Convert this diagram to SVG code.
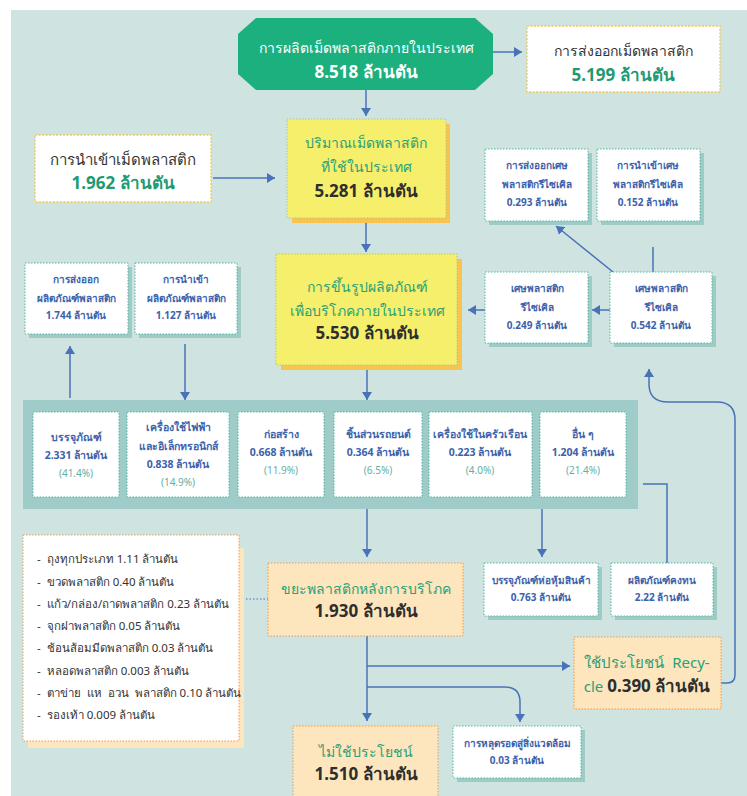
<svg xmlns="http://www.w3.org/2000/svg" width="747" height="796" viewBox="0 0 747 796">
<style>
text{font-family:"Noto Sans","DejaVu Sans",sans-serif;text-anchor:middle}
.w1{fill:#fff;font-size:14px}
.w2{fill:#fff;font-size:17px;font-weight:bold}
.dk{fill:#333;font-size:14px}
.dkb{fill:#2e2e2e;font-size:17px;font-weight:bold}
.gr{fill:#2a9f78;font-size:14px}
.grb{fill:#1f9a72;font-size:17px;font-weight:bold}
.bl{fill:#3c62ab;font-size:10px;font-weight:bold}
.cat{fill:#3c62ab;font-size:10.5px;font-weight:bold}
.pct{fill:#5fb0a6;font-size:10px}
.lst{fill:#333;font-size:11.5px;text-anchor:start}
.wb{fill:#fff;stroke:#4fb99e;stroke-width:1;stroke-dasharray:1.5 1.5}
.wsh{fill:#9ecbc6}
.yb{fill:#f6ef6c;stroke:#a8c98a;stroke-width:1;stroke-dasharray:1.5 1.5}
.ysh{fill:#f9c34e}
.pb{fill:#fde6bd;stroke:#f29a4a;stroke-width:1;stroke-dasharray:1.5 1.5}
.eb{fill:#fff;stroke:#f2c94c;stroke-width:1.3;stroke-dasharray:2 1.5}
.lnm{fill:none;stroke:#4a72b8;stroke-width:1.5;marker-end:url(#ah)}
</style>
<defs>
<marker id="ah" viewBox="0 0 8 10" refX="8" refY="5" markerWidth="8" markerHeight="11" markerUnits="userSpaceOnUse" orient="auto">
<path d="M0,0 L8,5 L0,10 z" fill="#4a72b8"/>
</marker>
</defs>
<rect x="0" y="0" width="747" height="796" fill="#ffffff"/>
<rect x="11" y="10" width="736" height="786" fill="#cfe3e1"/>

<g id="connectors">
<path class="lnm" d="M493,52 H522"/>
<path class="lnm" d="M366,90 V116"/>
<path class="lnm" d="M213,178 H275"/>
<path class="lnm" d="M366,223 V252"/>
<path class="lnm" d="M613,272 L556,226"/>
<path class="lnm" d="M653,247 V282"/>
<path class="lnm" d="M610,310 H592"/>
<path class="lnm" d="M485,310 H468"/>
<path class="lnm" d="M70,398 V346"/>
<path class="lnm" d="M185,344 V400"/>
<path class="lnm" d="M367,370 V400"/>
<path class="lnm" d="M367,509 V557"/>
<path class="lnm" d="M542,509 V557"/>
<path class="lnm" d="M643,484 H667 V573"/>
<path class="lnm" d="M367,636 V721"/>
<path class="lnm" d="M367,666 H570"/>
<path class="lnm" d="M367,687 H505 Q520,687 520,702 V722"/>
<path class="lnm" d="M721,683 H727 Q735,683 735,675 V420 Q735,402 717,402 H668 Q649,402 649,384 V369"/>
<path d="M239,599 H268" fill="none" stroke="#4a72b8" stroke-width="1.2" stroke-dasharray="1.5 2"/>
</g>

<g id="n-production">
<polygon points="256,18 475,18 493,34 493,74 475,90 256,90 238,74 238,34" fill="#1bb07e"/>
<text class="w1" x="366" y="53">การผลิตเม็ดพลาสติกภายในประเทศ</text>
<text class="w2" x="366" y="78">8.518 ล้านตัน</text>
</g>

<g id="n-export">
<rect class="eb" x="527" y="26" width="193" height="66"/>
<text class="dk" x="623" y="56">การส่งออกเม็ดพลาสติก</text>
<text class="grb" x="623" y="81">5.199 ล้านตัน</text>
</g>

<g id="n-import">
<rect class="eb" x="35" y="135" width="176" height="67"/>
<text class="dk" x="123" y="165" style="font-size:15px">การนำเข้าเม็ดพลาสติก</text>
<text class="grb" x="123" y="189">1.962 ล้านตัน</text>
</g>

<g id="n-domestic">
<rect class="ysh" x="292" y="124" width="158" height="99"/>
<rect class="yb" x="287" y="119" width="159" height="99"/>
<text class="gr" x="366" y="148">ปริมาณเม็ดพลาสติก</text>
<text class="gr" x="366" y="172">ที่ใช้ในประเทศ</text>
<text class="dkb" x="366" y="197">5.281 ล้านตัน</text>
</g>

<g id="n-forming">
<rect class="ysh" x="281" y="259" width="181" height="111"/>
<rect class="yb" x="276" y="254" width="181" height="111"/>
<text class="gr" x="367" y="292">การขึ้นรูปผลิตภัณฑ์</text>
<text class="gr" x="367" y="316">เพื่อบริโภคภายในประเทศ</text>
<text class="dkb" x="367" y="339">5.530 ล้านตัน</text>
</g>

<g id="n-exp-scrap">
<rect class="wsh" x="489" y="153" width="103" height="72"/>
<rect class="wb" x="485" y="149" width="103" height="72"/>
<text class="bl" x="537" y="169">การส่งออกเศษ</text>
<text class="bl" x="537" y="188">พลาสติกรีไซเคิล</text>
<text class="bl" x="537" y="206">0.293 ล้านตัน</text>
</g>

<g id="n-imp-scrap">
<rect class="wsh" x="601" y="153" width="103" height="72"/>
<rect class="wb" x="597" y="149" width="103" height="72"/>
<text class="bl" x="648" y="169">การนำเข้าเศษ</text>
<text class="bl" x="648" y="188">พลาสติกรีไซเคิล</text>
<text class="bl" x="648" y="206">0.152 ล้านตัน</text>
</g>

<g id="n-scrap-249">
<rect class="wsh" x="489" y="276" width="103" height="71"/>
<rect class="wb" x="485" y="272" width="103" height="71"/>
<text class="bl" x="537" y="292">เศษพลาสติก</text>
<text class="bl" x="537" y="311">รีไซเคิล</text>
<text class="bl" x="537" y="329">0.249 ล้านตัน</text>
</g>

<g id="n-scrap-542">
<rect class="wsh" x="614" y="276" width="102" height="71"/>
<rect class="wb" x="610" y="272" width="102" height="71"/>
<text class="bl" x="661" y="292">เศษพลาสติก</text>
<text class="bl" x="661" y="311">รีไซเคิล</text>
<text class="bl" x="661" y="329">0.542 ล้านตัน</text>
</g>

<g id="n-exp-prod">
<rect class="wsh" x="29" y="267" width="103" height="71"/>
<rect class="wb" x="25" y="263" width="103" height="71"/>
<text class="bl" x="76" y="283">การส่งออก</text>
<text class="bl" x="76" y="302">ผลิตภัณฑ์พลาสติก</text>
<text class="bl" x="76" y="319">1.744 ล้านตัน</text>
</g>

<g id="n-imp-prod">
<rect class="wsh" x="139" y="267" width="102" height="71"/>
<rect class="wb" x="135" y="263" width="102" height="71"/>
<text class="bl" x="186" y="283">การนำเข้า</text>
<text class="bl" x="186" y="302">ผลิตภัณฑ์พลาสติก</text>
<text class="bl" x="186" y="319">1.127 ล้านตัน</text>
</g>

<g id="n-categories">
<rect x="23" y="400" width="615" height="109" fill="#9fcbc8"/>
<rect class="wb" x="33" y="412" width="86" height="85"/>
<text class="cat" x="76" y="441">บรรจุภัณฑ์</text>
<text class="cat" x="76" y="459">2.331 ล้านตัน</text>
<text class="pct" x="76" y="477">(41.4%)</text>
<rect class="wb" x="127" y="412" width="102" height="85"/>
<text class="cat" x="178" y="431">เครื่องใช้ไฟฟ้า</text>
<text class="cat" x="178" y="450">และอิเล็กทรอนิกส์</text>
<text class="cat" x="178" y="468">0.838 ล้านตัน</text>
<text class="pct" x="178" y="486">(14.9%)</text>
<rect class="wb" x="238" y="412" width="86" height="85"/>
<text class="cat" x="281" y="438">ก่อสร้าง</text>
<text class="cat" x="281" y="456">0.668 ล้านตัน</text>
<text class="pct" x="281" y="474">(11.9%)</text>
<rect class="wb" x="334" y="412" width="88" height="85"/>
<text class="cat" x="378" y="438">ชิ้นส่วนรถยนต์</text>
<text class="cat" x="378" y="456">0.364 ล้านตัน</text>
<text class="pct" x="378" y="474">(6.5%)</text>
<rect class="wb" x="429" y="412" width="103" height="85"/>
<text class="cat" x="480" y="438">เครื่องใช้ในครัวเรือน</text>
<text class="cat" x="480" y="456">0.223 ล้านตัน</text>
<text class="pct" x="480" y="474">(4.0%)</text>
<rect class="wb" x="540" y="412" width="86" height="85"/>
<text class="cat" x="583" y="438">อื่น ๆ</text>
<text class="cat" x="583" y="456">1.204 ล้านตัน</text>
<text class="pct" x="583" y="474">(21.4%)</text>
</g>

<g id="n-list">
<rect x="28" y="548" width="216" height="200" fill="#fde6bd"/>
<rect x="23" y="535" width="216" height="206" fill="#fff" stroke="#f29a4a" stroke-width="1" stroke-dasharray="1.5 1.5"/>
<text class="lst" x="37" y="563">-&#160;&#160;ถุงทุกประเภท 1.11 ล้านตัน</text>
<text class="lst" x="37" y="586">-&#160;&#160;ขวดพลาสติก 0.40 ล้านตัน</text>
<text class="lst" x="37" y="608">-&#160;&#160;แก้ว/กล่อง/ถาดพลาสติก 0.23 ล้านตัน</text>
<text class="lst" x="37" y="630">-&#160;&#160;จุกฝาพลาสติก 0.05 ล้านตัน</text>
<text class="lst" x="37" y="652">-&#160;&#160;ช้อนส้อมมีดพลาสติก 0.03 ล้านตัน</text>
<text class="lst" x="37" y="675">-&#160;&#160;หลอดพลาสติก 0.003 ล้านตัน</text>
<text class="lst" x="37" y="697">-&#160;&#160;ตาข่าย&#160; แห&#160; อวน&#160; พลาสติก 0.10 ล้านตัน</text>
<text class="lst" x="37" y="719">-&#160;&#160;รองเท้า 0.009 ล้านตัน</text>
</g>

<g id="n-waste">
<rect class="pb" x="268" y="563" width="195" height="73"/>
<text class="gr" x="366" y="594">ขยะพลาสติกหลังการบริโภค</text>
<text class="dkb" x="366" y="617">1.930 ล้านตัน</text>
</g>

<g id="n-packaging">
<rect class="wsh" x="488" y="567" width="114" height="53"/>
<rect class="wb" x="484" y="563" width="114" height="53"/>
<text class="bl" x="541" y="584">บรรจุภัณฑ์ห่อหุ้มสินค้า</text>
<text class="bl" x="541" y="601">0.763 ล้านตัน</text>
</g>

<g id="n-durable">
<rect class="wsh" x="615" y="567" width="102" height="53"/>
<rect class="wb" x="611" y="563" width="102" height="53"/>
<text class="bl" x="662" y="584">ผลิตภัณฑ์คงทน</text>
<text class="bl" x="662" y="601">2.22 ล้านตัน</text>
</g>

<g id="n-recycle">
<rect class="pb" x="574" y="637" width="147" height="72"/>
<text class="gr" x="647" y="668" style="font-size:15px">ใช้ประโยชน์&#160; Recy-</text>
<text x="647" y="692"><tspan class="gr" style="font-size:15px">cle </tspan><tspan class="dkb">0.390 ล้านตัน</tspan></text>
</g>

<g id="n-unused">
<rect class="pb" x="293" y="726" width="145" height="80"/>
<text class="gr" x="366" y="757">ไม่ใช้ประโยชน์</text>
<text class="dkb" x="366" y="780">1.510 ล้านตัน</text>
</g>

<g id="n-leak">
<rect class="wsh" x="457" y="730" width="128" height="52"/>
<rect class="wb" x="453" y="726" width="128" height="52"/>
<text class="bl" x="517" y="747">การหลุดรอดสู่สิ่งแวดล้อม</text>
<text class="bl" x="517" y="764">0.03 ล้านตัน</text>
</g>
</svg>
